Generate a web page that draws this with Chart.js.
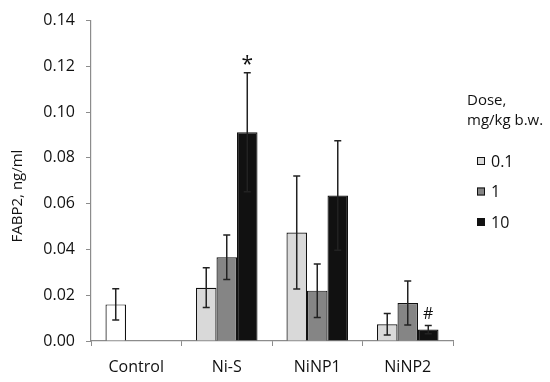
<!DOCTYPE html>
<html lang="en">
<head>
    <meta charset="UTF-8">
    <title>FABP2 by dose</title>
    <script src="https://cdn.jsdelivr.net/npm/chart.js"></script>
    <style>
        html, body { margin: 0; padding: 0; background: #fff; }
        #wrap { width: 550px; height: 382px; }
    </style>
</head>
<body>
    <div id="wrap"><canvas id="fabpChart" width="550" height="382"></canvas></div>
    <script>
        const groups = ['Control', 'Ni-S', 'NiNP1', 'NiNP2'];
        const doses = ['0.1', '1', '10'];
        const dose01 = [0.016, 0.0233, 0.0474, 0.0073];
        const dose1 = [null, 0.0366, 0.0220, 0.0166];
        const dose10 = [null, 0.0912, 0.0636, 0.0050];
        const err01 = [0.0068, 0.0087, 0.0247, 0.0047];
        const err1 = [null, 0.0097, 0.0117, 0.0096];
        const err10 = [null, 0.0260, 0.0239, 0.0018];
        const marks10 = ['', '*', '', '#'];
        const yTicks = [0, 0.02, 0.04, 0.06, 0.08, 0.10, 0.12, 0.14];

        const fontFam = 'Open Sans, sans-serif';
        const colors = ['#d9d9d9', '#858585', '#111111'];

        // error bars, significance marks, axis title and legend
        const extras = {
            id: 'extras',
            afterDatasetsDraw(chart) {
                const ctx = chart.ctx;
                const yScale = chart.scales.y;
                const errs = [err01, err1, err10];
                ctx.save();
                ctx.strokeStyle = '#222';
                ctx.lineWidth = 1.5;
                chart.data.datasets.forEach((ds, di) => {
                    const meta = chart.getDatasetMeta(di);
                    meta.data.forEach((bar, i) => {
                        const v = ds.data[i];
                        const e = errs[di][i];
                        if (v == null || e == null) return;
                        const yTop = yScale.getPixelForValue(v + e);
                        const yBot = yScale.getPixelForValue(v - e);
                        const x = bar.x;
                        ctx.beginPath();
                        ctx.moveTo(x, yTop); ctx.lineTo(x, yBot);
                        ctx.moveTo(x - 3.5, yTop); ctx.lineTo(x + 3.5, yTop);
                        ctx.moveTo(x - 3.5, yBot); ctx.lineTo(x + 3.5, yBot);
                        ctx.stroke();
                    });
                });

                // * and # above the 10 mg/kg bars
                const meta10 = chart.getDatasetMeta(2);
                ctx.fillStyle = '#111';
                ctx.textAlign = 'center';
                ctx.textBaseline = 'bottom';
                marks10.forEach((m, i) => {
                    if (!m) return;
                    const top = yScale.getPixelForValue(dose10[i] + err10[i]);
                    ctx.font = (m === '*' ? '21px ' : '16px ') + fontFam;
                    ctx.fillText(m, meta10.data[i].x, m === '*' ? top + 3 : top - 3);
                });

                // y axis title
                ctx.save();
                ctx.translate(18, 196);
                ctx.rotate(-Math.PI / 2);
                ctx.font = '15px ' + fontFam;
                ctx.textAlign = 'center';
                ctx.textBaseline = 'middle';
                ctx.fillText('FABP2, ng/ml', 0, 0);
                ctx.restore();

                // legend
                ctx.font = '15px ' + fontFam;
                ctx.textAlign = 'left';
                ctx.textBaseline = 'middle';
                ctx.fillText('Dose,', 467, 101);
                ctx.fillText('mg/kg b.w.', 467, 121);
                ctx.font = '16px ' + fontFam;
                doses.forEach((d, i) => {
                    const cy = 161 + i * 30.5;
                    ctx.fillStyle = colors[i];
                    ctx.fillRect(477, cy - 4, 8, 8);
                    ctx.strokeStyle = '#111';
                    ctx.lineWidth = 1;
                    ctx.strokeRect(477.5, cy - 3.5, 7, 7);
                    ctx.fillStyle = '#111';
                    ctx.fillText(d, 491, cy + 1);
                });
                ctx.restore();
            }
        };

        const ctx = document.getElementById('fabpChart').getContext('2d');
        new Chart(ctx, {
            type: 'bar',
            data: {
                labels: groups,
                datasets: [
                    {
                        label: doses[0],
                        data: dose01,
                        backgroundColor: ['#ffffff', colors[0], colors[0], colors[0]],
                        borderColor: '#111',
                        borderWidth: 1.2
                    },
                    {
                        label: doses[1],
                        data: dose1,
                        backgroundColor: colors[1],
                        borderColor: '#111',
                        borderWidth: 1.2
                    },
                    {
                        label: doses[2],
                        data: dose10,
                        backgroundColor: colors[2],
                        borderColor: '#111',
                        borderWidth: 1.2
                    }
                ]
            },
            options: {
                responsive: false,
                animation: false,
                layout: { padding: { top: 15, right: 97, left: 0, bottom: 0 } },
                datasets: {
                    bar: { barPercentage: 1, categoryPercentage: 0.68 }
                },
                plugins: {
                    legend: { display: false },
                    tooltip: { enabled: false }
                },
                scales: {
                    x: {
                        offset: true,
                        grid: {
                            offset: true,
                            drawOnChartArea: false,
                            tickLength: 5,
                            color: '#8c8c8c'
                        },
                        border: { color: '#8c8c8c', width: 1.2 },
                        ticks: {
                            color: '#111',
                            padding: 12,
                            font: { family: fontFam, size: 16 }
                        },
                        afterFit(scale) { scale.height = 41; }
                    },
                    y: {
                        min: 0,
                        max: 0.14,
                        afterBuildTicks(scale) {
                            scale.ticks = yTicks.map(v => ({ value: v }));
                        },
                        grid: {
                            drawOnChartArea: false,
                            tickLength: 5,
                            color: '#8c8c8c'
                        },
                        border: { color: '#8c8c8c', width: 1.2 },
                        ticks: {
                            color: '#111',
                            padding: 11,
                            font: { family: fontFam, size: 16 },
                            callback: v => Number(v).toFixed(2)
                        },
                        afterFit(scale) { scale.width = 91; }
                    }
                }
            },
            plugins: [extras]
        });
    </script>
</body>
</html>
